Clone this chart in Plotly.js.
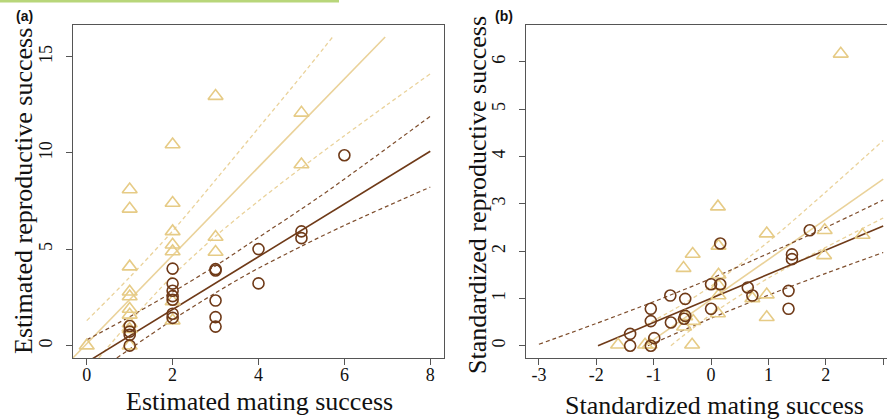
<!DOCTYPE html>
<html>
<head>
<meta charset="utf-8">
<script src="https://cdn.plot.ly/plotly-3.0.1.min.js"></script>
<style>html,body{margin:0;padding:0;background:#fff;}#chart{width:887px;height:420px;}</style>
</head>
<body>
<div id="chart"></div>
<script>
// ---- Panel (a): estimated mating vs reproductive success ----
const aTriX = [0, 1,1,1,1,1,1,1,1,1,1, 2,2,2,2,2,2,2, 3,3,3, 5,5];
const aTriY = [0, 8.1,7.1,4.1,2.8,2.55,1.9,1.6,1.15,0.85,0, 10.44,7.4,5.93,5.24,4.89,2.29,1.3, 12.95,5.64,4.86, 12.08,9.4];
const aCirX = [1,1,1,1, 2,2,2,2,2,2,2, 3,3,3,3,3, 4,4, 5,5, 6];
const aCirY = [1.02,0.73,0.56,0, 4.0,3.22,2.85,2.57,2.38,1.66,1.44, 3.97,3.9,2.34,1.48,0.99, 5.01,3.23, 5.93,5.58, 9.88];
const aTanFitX = [-0.32, 6.95];
const aTanFitY = [-0.63, 16.02];
const aTanUpX = [0, 1, 2, 3, 4, 5, 5.72];
const aTanUpY = [1.3, 3.55, 5.95, 8.6, 11.3, 14.0, 16.0];
const aTanLoX = [0.28, 1, 2, 3, 4, 5, 6, 7, 8];
const aTanLoY = [-0.64, 1.23, 3.63, 5.68, 7.51, 9.23, 10.89, 12.51, 14.11];
const aBrnFitX = [0, 8];
const aBrnFitY = [-0.86, 10.09];
const aBrnUpX = [0, 1, 2, 3, 3.8, 5.39, 6.5, 8];
const aBrnUpY = [0.3, 1.5, 2.78, 4.14, 5.32, 7.68, 9.45, 11.9];
const aBrnLoX = [0.7, 2, 3, 3.8, 5, 6, 7.36, 8];
const aBrnLoY = [-0.64, 1.34, 2.74, 3.78, 5.16, 6.24, 7.6, 8.23];
const aXTicks = [0, 2, 4, 6, 8];
const aYTicks = [0, 5, 10, 15];

// ---- Panel (b): standardized ----
const bTriX = [2.26, 0.12, 0.97, 1.98, 2.64, -0.32, 0.13, -0.48, 0.13, 1.97, 0.13, 0.13, 0.12, 0.72, 0.97, 0.97, -1.62, -1.15, -1.07, -0.33, -0.47, -0.31, -0.45];
const bTriY = [6.17, 2.94, 2.37, 2.44, 2.34, 1.94, 2.11, 1.64, 1.5, 1.91, 1.27, 1.06, 0.68, 1.0, 1.08, 0.6, 0.02, 0.02, 0.02, 0.02, 0.4, 0.52, 0.62];
const bCirX = [1.72, 0.16, 1.41, 1.41, 1.35, 1.35, 0.64, 0.72, 0.0, 0.16, 0.0, -0.71, -0.45, -1.05, -1.05, -0.70, -0.45, -0.47, -1.41, -1.41, -0.99, -1.05];
const bCirY = [2.44, 2.16, 1.93, 1.83, 1.16, 0.78, 1.23, 1.06, 1.3, 1.3, 0.78, 1.06, 0.99, 0.78, 0.52, 0.49, 0.63, 0.57, 0.25, 0.0, 0.16, 0.0];
const bTanFitX = [-1.15, 3.0];
const bTanFitY = [0.0, 3.52];
const bTanUpX = [-1.15, -0.5, 0, 1, 2, 3];
const bTanUpY = [0.43, 0.87, 1.26, 2.2, 3.25, 4.34];
const bTanLoX = [-0.7, 0, 1, 2, 3];
const bTanLoY = [0.0, 0.66, 1.43, 2.08, 2.7];
const bBrnFitX = [-1.97, 3.0];
const bBrnFitY = [0.0, 2.53];
const bBrnUpX = [-3, -2, -1, 0, 1, 2, 3];
const bBrnUpY = [0.03, 0.47, 0.93, 1.42, 1.95, 2.5, 3.08];
const bBrnLoX = [-1.1, 0, 1, 2, 3];
const bBrnLoY = [0.0, 0.58, 1.07, 1.53, 1.97];
const bXTicks = [-3, -2, -1, 0, 1, 2, 3];
const bXTickText = ['-3', '-2', '-1', '0', '1', '2', '3'];
const bYTicks = [0, 1, 2, 3, 4, 5, 6];

const TAN = '#e6cb86';
const TANLINE = '#ead29a';
const BRN = '#6f3a18';
const BRNDASH = '#7e4d2c';
const SERIF = 'Liberation Serif';

function line(x, y, color, dash, width, xa, ya) {
  return {x: x, y: y, xaxis: xa, yaxis: ya, type: 'scatter', mode: 'lines',
    line: {color: color, width: width, dash: dash, shape: 'spline', smoothing: 0.8},
    hoverinfo: 'skip'};
}
function pts(x, y, sym, size, color, xa, ya) {
  return {x: x, y: y, xaxis: xa, yaxis: ya, type: 'scatter', mode: 'markers',
    marker: {symbol: sym, size: size, color: color, line: {color: color, width: 1.6}},
    hoverinfo: 'skip', cliponaxis: false};
}

const traces = [
  line(aTanFitX, aTanFitY, TANLINE, 'solid', 1.6, 'x', 'y'),
  line(aTanUpX, aTanUpY, TANLINE, '4px,3px', 1.3, 'x', 'y'),
  line(aTanLoX, aTanLoY, TANLINE, '4px,3px', 1.3, 'x', 'y'),
  line(aBrnFitX, aBrnFitY, BRN, 'solid', 1.6, 'x', 'y'),
  line(aBrnUpX, aBrnUpY, BRNDASH, '4px,3px', 1.2, 'x', 'y'),
  line(aBrnLoX, aBrnLoY, BRNDASH, '4px,3px', 1.2, 'x', 'y'),
  pts(aTriX, aTriY, 'triangle-up-open', 13, TAN, 'x', 'y'),
  pts(aCirX, aCirY, 'circle-open', 11, BRN, 'x', 'y'),

  line(bTanFitX, bTanFitY, TANLINE, 'solid', 1.6, 'x2', 'y2'),
  line(bTanUpX, bTanUpY, TANLINE, '4px,3px', 1.3, 'x2', 'y2'),
  line(bTanLoX, bTanLoY, TANLINE, '4px,3px', 1.3, 'x2', 'y2'),
  line(bBrnFitX, bBrnFitY, BRN, 'solid', 1.6, 'x2', 'y2'),
  line(bBrnUpX, bBrnUpY, BRNDASH, '4px,3px', 1.2, 'x2', 'y2'),
  line(bBrnLoX, bBrnLoY, BRNDASH, '4px,3px', 1.2, 'x2', 'y2'),
  pts(bTriX, bTriY, 'triangle-up-open', 13, TAN, 'x2', 'y2'),
  pts(bCirX, bCirY, 'circle-open', 11, BRN, 'x2', 'y2')
];

const W = 887, H = 420;
const yDom = [1 - 358 / H, 1 - 25 / H];
function ax(extra) {
  return Object.assign({
    showgrid: false, zeroline: false, showline: true, linecolor: '#555', linewidth: 1,
    ticks: 'outside', ticklen: 6, tickcolor: '#555', tickwidth: 1,
    tickfont: {family: SERIF, size: 18, color: '#111'}, fixedrange: true
  }, extra);
}

const layout = {
  width: W, height: H, autosize: false,
  margin: {l: 0, r: 0, t: 0, b: 0, pad: 0},
  paper_bgcolor: '#ffffff', plot_bgcolor: '#ffffff',
  font: {family: SERIF},
  showlegend: false,
  xaxis: ax({domain: [73 / W, 444 / W], range: [-0.32, 8.32], anchor: 'y',
    tickmode: 'array', tickvals: aXTicks, mirror: true, ticklabelstandoff: -6}),
  yaxis: ax({domain: yDom, range: [-0.64, 16.64], anchor: 'x',
    tickmode: 'array', tickvals: aYTicks, tickangle: -90, mirror: true, ticklabelstandoff: 7}),
  xaxis2: ax({domain: [525.7 / W, 1], range: [-3.23, 3.066], anchor: 'y2',
    tickmode: 'array', tickvals: bXTicks, ticktext: bXTickText, mirror: true, ticklabelstandoff: -6}),
  yaxis2: ax({domain: yDom, range: [-0.26, 6.78], anchor: 'x2',
    tickmode: 'array', tickvals: bYTicks, tickangle: -90, mirror: false, ticklabelstandoff: 7}),
  shapes: [
    {type: 'rect', xref: 'paper', yref: 'paper', x0: 0, x1: 339 / W, y0: 1 - 2.5 / H, y1: 1,
      fillcolor: '#b8d67a', line: {width: 0}}
  ],
  annotations: [
    {text: 'Estimated mating success', xref: 'paper', yref: 'paper', x: 259 / W, y: 1 - 401 / H,
      xanchor: 'center', yanchor: 'middle', showarrow: false, font: {family: SERIF, size: 26, color: '#111'}},
    {text: 'Standardized mating success', xref: 'paper', yref: 'paper', x: 714 / W, y: 1 - 405 / H,
      xanchor: 'center', yanchor: 'middle', showarrow: false, font: {family: SERIF, size: 26, color: '#111'}},
    {text: 'Estimated reproductive success', xref: 'paper', yref: 'paper', x: 24 / W, y: 1 - 191 / H,
      xanchor: 'center', yanchor: 'middle', textangle: -90, showarrow: false, font: {family: SERIF, size: 26, color: '#111'}},
    {text: 'Standardized reproductive success', xref: 'paper', yref: 'paper', x: 477 / W, y: 1 - 195 / H,
      xanchor: 'center', yanchor: 'middle', textangle: -90, showarrow: false, font: {family: SERIF, size: 26, color: '#111'}},
    {text: '<b>(a)</b>', xref: 'paper', yref: 'paper', x: 24.5 / W, y: 1 - 16 / H,
      xanchor: 'center', yanchor: 'middle', showarrow: false, font: {family: 'Liberation Sans', size: 14, color: '#111'}},
    {text: '<b>(b)</b>', xref: 'paper', yref: 'paper', x: 504 / W, y: 1 - 16 / H,
      xanchor: 'center', yanchor: 'middle', showarrow: false, font: {family: 'Liberation Sans', size: 14, color: '#111'}}
  ]
};

Plotly.newPlot('chart', traces, layout, {displayModeBar: false, staticPlot: true});
</script>
</body>
</html>
